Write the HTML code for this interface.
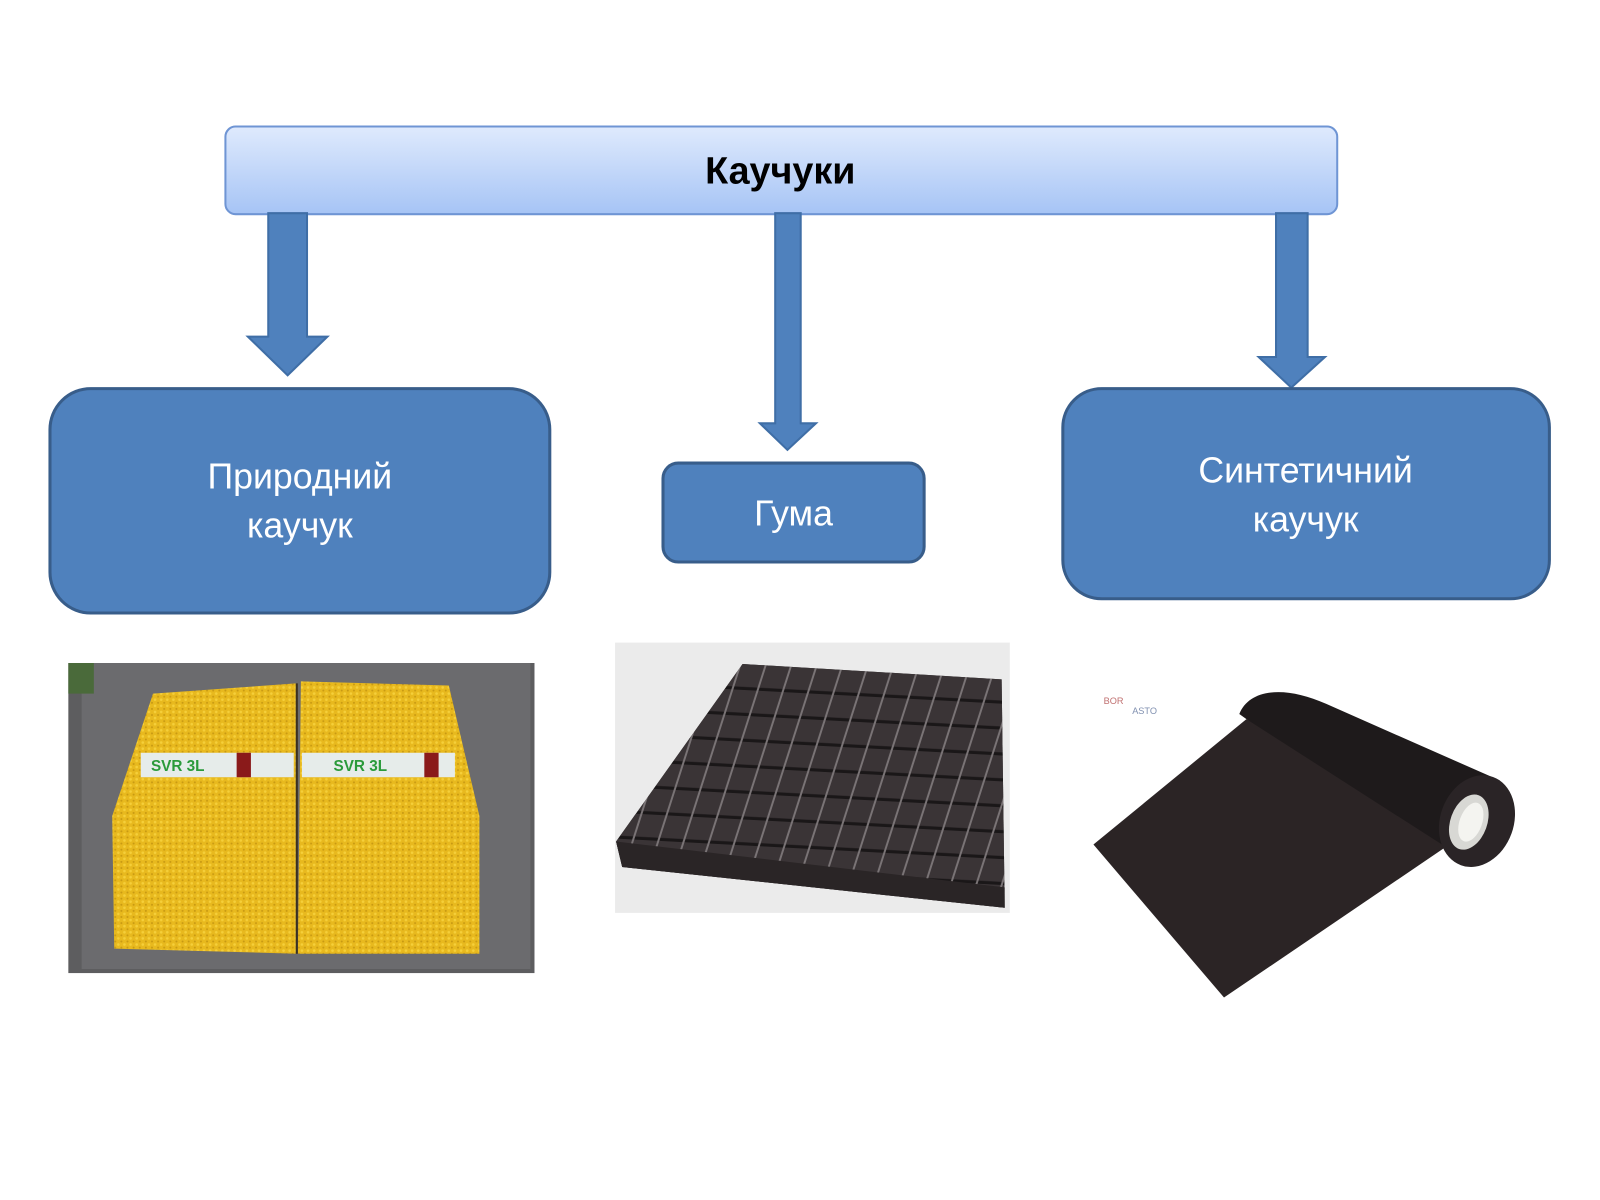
<!DOCTYPE html>
<html><head><meta charset="utf-8"><style>
html,body{margin:0;padding:0;background:#fff;}
svg{display:block}
text{font-family:"Liberation Sans","DejaVu Sans",sans-serif;}
</style></head><body>
<svg width="1600" height="1200" viewBox="0 0 1600 1200" xmlns="http://www.w3.org/2000/svg">
<defs>
<linearGradient id="bar" x1="0" y1="0" x2="0" y2="1">
<stop offset="0" stop-color="#dfeafd"/><stop offset="1" stop-color="#a6c4f5"/>
</linearGradient>
<pattern id="grid" width="25" height="25" patternUnits="userSpaceOnUse" patternTransform="translate(728,651) skewX(-15) rotate(3)">
<rect width="25" height="25" fill="#3a3436"/>
<rect x="0" y="22" width="25" height="3" fill="#1a1718"/>
<rect x="22" y="0" width="2" height="25" fill="#7a7476"/>
</pattern>
<clipPath id="mat"><polygon points="728,651 982,666 985,890 610,850 604,825"/></clipPath>
<pattern id="sponge" width="6" height="6" patternUnits="userSpaceOnUse">
<rect width="6" height="6" fill="#e8b91e"/><circle cx="2" cy="2" r="1.3" fill="#f5cf3a"/><circle cx="5" cy="5" r="1" fill="#c99a12"/>
</pattern>
</defs>
<g transform="scale(1.02)">
<rect x="221" y="124" width="1090" height="86" rx="10" fill="url(#bar)" stroke="#6f95d4" stroke-width="2"/>
<text x="765" y="180" font-size="37" font-weight="bold" text-anchor="middle" fill="#000">Каучуки</text>

<g fill="#4f81bd" stroke="#3f6ea6" stroke-width="2">
<polygon points="263,209 301,209 301,330 321,330 282,368 243,330 263,330"/>
<polygon points="760,209 785,209 785,415 800,415 772,441 745,415 760,415"/>
<polygon points="1251,209 1282,209 1282,350 1299,350 1266,380 1234,350 1251,350"/>
</g>

<g fill="#4f81bd" stroke="#385d8a" stroke-width="3">
<rect x="49" y="381" width="490" height="220" rx="40"/>
<rect x="650" y="454" width="256" height="97" rx="15"/>
<rect x="1042" y="381" width="477" height="206" rx="38"/>
</g>
<g fill="#fff" font-size="35" text-anchor="middle">
<text x="294" y="479">Природний</text>
<text x="294" y="527">каучук</text>
<text x="778" y="515">Гума</text>
<text x="1280" y="473">Синтетичний</text>
<text x="1280" y="521">каучук</text>
</g>

<rect x="67" y="650" width="457" height="304" fill="#5d5d5f"/>
<rect x="80" y="650" width="440" height="300" fill="#6b6b6e"/>
<rect x="67" y="650" width="25" height="30" fill="#4a6a3a"/>
<polygon points="150,680 290,670 290,935 112,930 110,800" fill="url(#sponge)"/>
<polygon points="295,668 440,672 470,800 470,935 292,935" fill="url(#sponge)"/>
<line x1="291" y1="670" x2="291" y2="935" stroke="#3a3020" stroke-width="2"/>
<rect x="138" y="738" width="150" height="24" fill="#e6ecea"/>
<rect x="296" y="738" width="150" height="24" fill="#e6ecea"/>
<text x="148" y="756" font-size="15" font-weight="bold" fill="#2a9a3a">SVR 3L</text>
<text x="327" y="756" font-size="15" font-weight="bold" fill="#2a9a3a">SVR 3L</text>
<rect x="232" y="738" width="14" height="24" fill="#8a1a1a"/>
<rect x="416" y="738" width="14" height="24" fill="#8a1a1a"/>

<rect x="603" y="630" width="387" height="265" fill="#ebebeb"/>
<polygon points="728,651 982,666 985,890 610,850 604,825" fill="#3a3436"/>
<rect x="600" y="640" width="400" height="260" fill="url(#grid)" clip-path="url(#mat)"/>
<polygon points="604,825 985,870 985,890 610,850" fill="#2a2526"/>

<polygon points="1072,828 1222,705 1440,815 1200,978" fill="#2b2425"/>
<path d="M1215,700 C1225,675 1260,672 1300,690 L1470,765 C1490,790 1480,835 1455,845 L1420,832 L1222,705 Z" fill="#1e1a1b"/>
<ellipse cx="1448" cy="805" rx="36" ry="46" fill="#2a2426" transform="rotate(20 1448 805)"/>
<ellipse cx="1440" cy="806" rx="18" ry="28" fill="#d8d8d4" transform="rotate(20 1440 806)"/>
<ellipse cx="1442" cy="806" rx="11" ry="20" fill="#f4f4f0" transform="rotate(20 1442 806)"/>
<text x="1082" y="690" font-size="9" fill="#c07070">BOR</text>
<text x="1110" y="700" font-size="9" fill="#8090b0">ASTO</text>
</g>
</svg>
</body></html>
